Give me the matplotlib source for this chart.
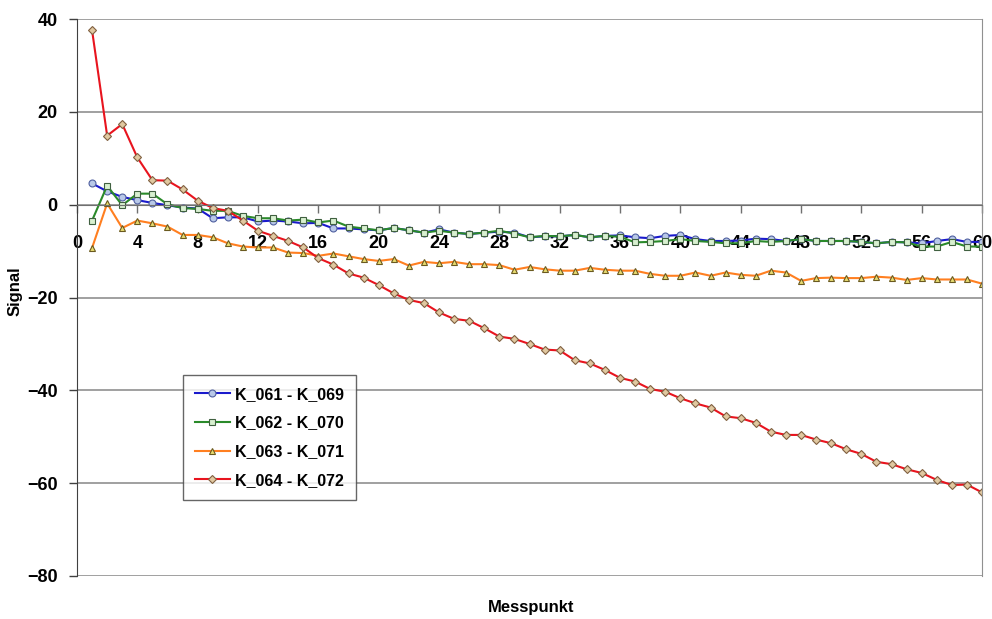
import matplotlib.pyplot as plt

plt.rcParams['font.family'] = ['Liberation Sans', 'DejaVu Sans']

messpunkt = list(range(1, 61))

k061_k069 = [4.6, 2.9, 1.7, 1.0, 0.4, -0.1, -0.6, -0.8, -2.9, -2.7,
             -2.7, -3.6, -3.4, -3.6, -4.0, -3.9, -5.1, -5.1, -5.3, -5.5,
             -5.0, -5.5, -6.0, -5.3, -6.0, -6.3, -6.0, -5.8, -6.0, -7.0,
             -6.8, -6.8, -6.5, -7.0, -6.7, -6.6, -7.0, -7.2, -6.7, -6.5,
             -7.4, -7.8, -7.8, -7.7, -7.3, -7.4, -7.8, -7.4, -7.8, -7.8,
             -7.8, -8.0, -8.3, -8.0, -8.1, -8.3, -7.8, -7.4, -8.0, -8.0]
k062_k070 = [-3.4, 4.1, -0.1, 2.4, 2.4, 0.1, -0.7, -0.9, -1.3, -1.3,
             -2.4, -2.9, -2.9, -3.4, -3.2, -3.8, -3.4, -4.7, -5.1, -5.5,
             -5.0, -5.5, -6.0, -5.6, -6.0, -6.3, -6.0, -5.6, -6.2, -7.0,
             -6.7, -6.8, -6.5, -7.0, -6.7, -6.9, -8.1, -8.0, -7.8, -7.4,
             -7.8, -8.0, -8.3, -8.3, -7.8, -8.0, -7.8, -7.4, -7.8, -7.8,
             -7.8, -8.0, -8.3, -8.0, -8.1, -9.0, -9.0, -8.0, -9.0, -9.0]
k063_k071 = [-9.3, 0.3, -5.0, -3.4, -4.0, -4.7, -6.5, -6.5, -7.0, -8.3,
             -9.0, -9.2, -9.2, -10.3, -10.4, -11.0, -10.5, -11.1, -11.7, -12.1,
             -11.7, -13.1, -12.3, -12.6, -12.3, -12.8, -12.8, -13.0, -14.0, -13.4,
             -13.9, -14.2, -14.2, -13.6, -14.0, -14.2, -14.2, -14.9, -15.3, -15.3,
             -14.6, -15.3, -14.6, -15.1, -15.3, -14.2, -14.6, -16.4, -15.8, -15.7,
             -15.8, -15.8, -15.5, -15.7, -16.2, -15.8, -16.1, -16.1, -16.1, -17.0]
k064_k072 = [37.6, 14.9, 17.4, 10.2, 5.3, 5.2, 3.3, 0.9, -0.7, -1.3,
             -3.4, -5.6, -6.7, -7.8, -9.2, -11.5, -12.9, -14.8, -15.7, -17.3,
             -19.1, -20.5, -21.2, -23.2, -24.6, -25.0, -26.6, -28.4, -28.9, -30.0,
             -31.2, -31.4, -33.5, -34.2, -35.6, -37.3, -38.1, -39.7, -40.3, -41.7,
             -42.8, -43.7, -45.6, -46.0, -47.0, -48.9, -49.6, -49.6, -50.6, -51.4,
             -52.7, -53.7, -55.4, -55.9, -57.0, -57.8, -59.3, -60.4, -60.3, -62.0]

series = [
    ('K_061 - K_069', k061_k069, '#1a1acc', 'o', '#b8c8e8', '#5060a0'),
    ('K_062 - K_070', k062_k070, '#2a8a2a', 's', '#d8f0d0', '#406040'),
    ('K_063 - K_071', k063_k071, '#ff7f20', '^', '#e8dc70', '#6a5a20'),
    ('K_064 - K_072', k064_k072, '#e8141e', 'D', '#e0c8a0', '#806040'),
]

fig = plt.figure(figsize=(9.92, 6.19), dpi=100)
ax = fig.add_axes([0.0776, 0.0695, 0.9124, 0.8995])

for name, vals, col, mk, fc, ec in series:
    ax.plot(messpunkt, vals, color=col, lw=1.5, marker=mk,
            markersize=5 if mk != 'D' else 4.5, markerfacecolor=fc,
            markeredgecolor=ec, markeredgewidth=0.8, label=name)

ax.set_xlim(0, 60)
ax.set_ylim(-80, 40)
ax.set_xticks(range(0, 61, 4))
ax.set_yticks(range(-80, 41, 20))

ax.yaxis.grid(True, color='#909090', lw=1.2)
ax.set_axisbelow(True)

ax.spines['bottom'].set_position(('data', 0))
ax.spines['bottom'].set_color('#707070')
ax.spines['left'].set_color('#404040')
ax.spines['right'].set_color('#909090')
ax.spines['top'].set_visible(False)

ax.tick_params(axis='x', direction='out', length=6, width=1, color='#707070',
               pad=16, labelsize=13)
ax.tick_params(axis='y', direction='out', length=6, width=1, color='#404040',
               pad=8, labelsize=13)
for lab in ax.get_xticklabels() + ax.get_yticklabels():
    lab.set_fontweight('bold')

fig.text(0.015, 0.53, 'Signal', rotation=90, ha='center', va='center',
         fontsize=12, fontweight='bold')
fig.text(0.535, 0.018, 'Messpunkt', ha='center', va='center',
         fontsize=12, fontweight='bold')

leg = ax.legend(loc='upper left', bbox_to_anchor=(0.117, 0.361),
                borderaxespad=0,
                prop={'weight': 'bold', 'size': 11.5}, frameon=True,
                fancybox=False, handlelength=2.2, handletextpad=0.3,
                labelspacing=0.85, borderpad=0.75)
leg.get_frame().set_edgecolor('#404040')
leg.get_frame().set_linewidth(1)

fig.savefig('out.png', dpi=100)
